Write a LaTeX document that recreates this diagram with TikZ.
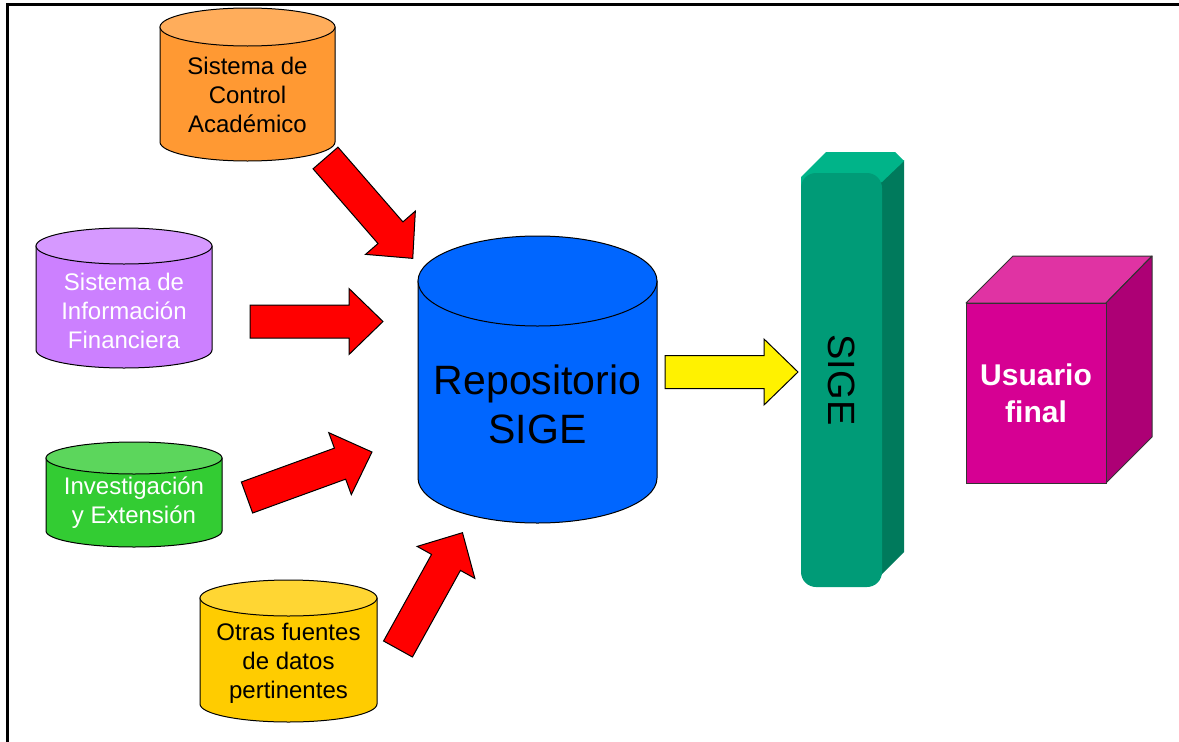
\documentclass[tikz,border=0pt]{standalone}
\usepackage{fontspec}
\setmainfont{Liberation Sans}
\definecolor{orbody}{RGB}{255,153,51}
\definecolor{ortop}{RGB}{255,173,91}
\definecolor{pubody}{RGB}{204,128,255}
\definecolor{putop}{RGB}{214,153,255}
\definecolor{grbody}{RGB}{51,204,51}
\definecolor{grtop}{RGB}{92,214,92}
\definecolor{yebody}{RGB}{255,204,0}
\definecolor{yetop}{RGB}{255,214,51}
\definecolor{blbody}{RGB}{0,102,255}
\definecolor{sgfront}{RGB}{0,155,119}
\definecolor{sgtop}{RGB}{0,180,137}
\definecolor{sgside}{RGB}{0,122,92}
\definecolor{cbfront}{RGB}{214,0,147}
\definecolor{cbtop}{RGB}{224,51,163}
\definecolor{cbside}{RGB}{173,0,117}
% cx, ytop, ybot, rx, ry, body, top
\newcommand\drawcyl[7]{%
  \filldraw[fill=#6,draw=black,line width=1pt] (#1-#4,#2) -- (#1-#4,#3)
    arc[start angle=180,end angle=0,x radius=#4,y radius=#5] -- (#1+#4,#2) -- cycle;
  \filldraw[fill=#7,draw=black,line width=1pt] (#1,#2) ellipse[x radius=#4,y radius=#5];
}
\tikzset{
  blockarrow/.pic={\filldraw[fill=#1,draw=black,line width=1pt,line join=miter]
    (0,16.5) -- (99,16.5) -- (99,33) -- (133,0) -- (99,-33) -- (99,-16.5) -- (0,-16.5) -- cycle;},
  cyltext/.style={align=center,inner sep=0pt,font=\fontsize{24}{29}\selectfont},
}
\begin{document}
\begin{tikzpicture}[x=1pt,y=1pt,yscale=-1]
\useasboundingbox (0,0) rectangle (1179,742);
\draw[line width=3pt] (7,742) -- (7,4) -- (1179,4);

% source cylinders
\drawcyl{247.5}{27}{142}{87.5}{19}{orbody}{ortop}
\node[cyltext,text=black] (acad) at (247.5,95) {Sistema de\\Control\\Académico};
\drawcyl{124}{246}{350}{88}{18}{pubody}{putop}
\node[cyltext,text=white] (fin) at (124,311) {Sistema de\\Información\\Financiera};
\drawcyl{134}{458}{531}{88}{16}{grbody}{grtop}
\node[cyltext,text=white] (inv) at (134,503) {Investigación\\y Extensión};
\drawcyl{288.5}{598}{704}{88.5}{18}{yebody}{yetop}
\node[cyltext,text=black] (otras) at (288.5,663) {Otras fuentes\\de datos\\pertinentes};

% repository
\drawcyl{537.5}{281}{478}{119.5}{45}{blbody}{blbody}
\node[align=center,inner sep=0pt,font=\fontsize{41}{49}\selectfont] (repo) at (537.5,404) {Repositorio\\SIGE};

% arrows
\pic[rotate=-49] at (325.5,158) {blockarrow=red};
\pic at (250,321.5) {blockarrow=red};
\pic[rotate=20] at (247,497.5) {blockarrow=red};
\pic[rotate=61] at (398,649) {blockarrow=red};
\pic at (665,372) {blockarrow=yellow};

% SIGE bar
\fill[sgside] (860,190) -- (882,180) -- (904,160) -- (904,552) -- (878,578) -- (860,578) -- cycle;
\fill[sgtop] (801,190) -- (801,177) -- (826,152) -- (895,152) -- (904,161) -- (882,182) -- (860,190) -- cycle;
\fill[sgfront,rounded corners=15pt] (801,173) rectangle (882,587);
\node[rotate=-90,inner sep=0pt,font=\fontsize{38}{44}\selectfont] (sige) at (841.5,380) {SIGE};

% cube
\filldraw[fill=cbtop,draw=black!80,line width=1pt,line join=round] (966,303) -- (1013,256) -- (1152,256) -- (1106,303) -- cycle;
\filldraw[fill=cbside,draw=black!80,line width=1pt,line join=round] (1106,303) -- (1152,256) -- (1152,437) -- (1106,483) -- cycle;
\filldraw[fill=cbfront,draw=black!80,line width=1pt] (966,303) rectangle (1106,483);
\node[align=center,inner sep=0pt,text=white,font=\bfseries\fontsize{30}{37}\selectfont] (user) at (1036,393) {Usuario\\final};
\end{tikzpicture}
\end{document}
